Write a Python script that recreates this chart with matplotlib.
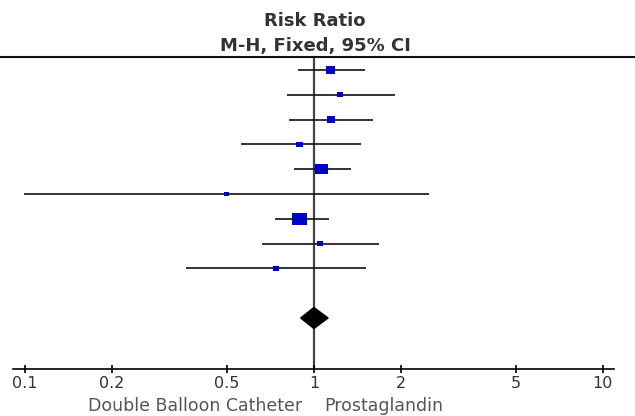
import numpy as np
import matplotlib
matplotlib.use("Agg")
import matplotlib.pyplot as plt
from matplotlib.path import Path
from matplotlib.patches import Polygon

# study rows (risk ratio, 95% CI, weight %)
rr = [1.14, 1.23, 1.15, 0.89, 1.06, 0.50, 0.89, 1.05, 0.74]
ci_low = [0.88, 0.81, 0.82, 0.56, 0.85, 0.099, 0.735, 0.66, 0.36]
ci_high = [1.50, 1.91, 1.60, 1.45, 1.34, 2.51, 1.13, 1.68, 1.52]
weight = [10.7, 5.4, 8.6, 6.3, 23.2, 3.2, 30.0, 6.4, 6.3]

# pooled estimate
pooled = 1.00
pooled_low = 0.90
pooled_high = 1.12

ticks = [0.1, 0.2, 0.5, 1, 2, 5, 10]
tick_labels = ["0.1", "0.2", "0.5", "1", "2", "5", "10"]
left_label = "Double Balloon Catheter"
right_label = "Prostaglandin"

plt.rcParams['font.family'] = ['DejaVu Sans']

fig = plt.figure(figsize=(6.35, 4.16), dpi=100)
ax = fig.add_axes([0, 0, 1, 1])
ax.set_xscale('log')
# pixel x = 313.9 + 289*log10(v) ; row r at pixel y = 70 + 24.8*r
ax.set_xlim(10 ** (-313.9 / 289), 10 ** ((635 - 313.9) / 289))
ax.set_ylim(346 / 24.8, -70 / 24.8)
ax.patch.set_alpha(0)

rows = np.arange(len(rr))
pooled_row = len(rr) + 1
top_row = (57 - 70) / 24.8
axis_row = (369 - 70) / 24.8

# header line and line of no effect
ax.axhline(top_row, color='#111111', lw=1.5)
ax.plot([1, 1], [top_row, axis_row], color='#444444', lw=1.6, zorder=1)

# confidence intervals
ax.hlines(rows, ci_low, ci_high, color='#1a1a1a', lw=1.25, zorder=2)

# boxes, area ~ weight, slightly wider than tall
box = Path([(-1.25, -1), (1.25, -1), (1.25, 1), (-1.25, 1), (-1.25, -1)],
           closed=True)
w = np.array(weight)
width_px = np.sqrt(1.25 * w / 100 * 580)
ax.scatter(rr, rows, s=(width_px * 0.72) ** 2, marker=box,
           color='#0000c8', edgecolors='none', zorder=3)

# pooled diamond
h = 10.5 / 24.8
ax.add_patch(Polygon([(pooled_low, pooled_row), (pooled, pooled_row - h),
                      (pooled_high, pooled_row), (pooled, pooled_row + h)],
                     closed=True, color='black', zorder=3))

# x axis
for s in ['left', 'right', 'top']:
    ax.spines[s].set_visible(False)
ax.spines['bottom'].set_position(('data', axis_row))
ax.spines['bottom'].set_bounds(0.0912, 10.9)
ax.spines['bottom'].set_linewidth(1.2)
ax.set_yticks([])
ax.set_xticks(ticks)
ax.set_xticklabels(tick_labels)
ax.minorticks_off()
ax.tick_params(axis='x', direction='inout', length=6, width=1.2,
               labelsize=11.5, labelcolor='#333333', pad=2)

ax.annotate(left_label, xy=(1, axis_row), xytext=(-8.6, -26.6),
            textcoords='offset points', ha='right', va='center',
            fontsize=12.5, color='#555555')
ax.annotate(right_label, xy=(1, axis_row), xytext=(7.2, -26.6),
            textcoords='offset points', ha='left', va='center',
            fontsize=12.5, color='#555555')

fig.text(0.496, 0.950, "Risk Ratio", ha='center', va='center',
         fontsize=13, fontweight='bold', color='#333333')
fig.text(0.496, 0.890, "M-H, Fixed, 95% CI", ha='center', va='center',
         fontsize=13, fontweight='bold', color='#333333')

fig.savefig("out.png", dpi=100)
